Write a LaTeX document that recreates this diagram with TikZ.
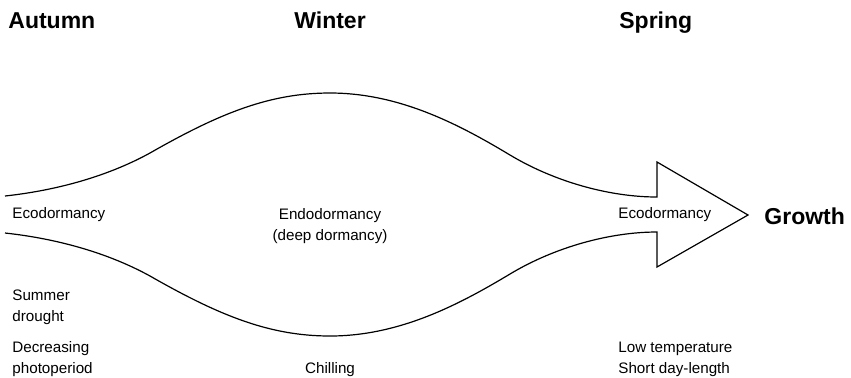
\documentclass[tikz,border=0pt]{standalone}
\usepackage{fontspec}
\setmainfont{Liberation Sans}
\begin{document}
\begin{tikzpicture}[x=0.5pt,y=-0.5pt]
        \tikzstyle{season}=[font=\fontsize{11.5}{14}\selectfont\bfseries,inner sep=0pt]
        \tikzstyle{phase}=[font=\fontsize{7.6}{10.5}\selectfont,inner sep=0pt,align=left]
        \tikzstyle{outline}=[draw=black,line width=0.6pt,line join=miter]
        \useasboundingbox (0,0) rectangle (851,377);
        \begin{scope}
                \node [season,anchor=base west] (autumn) at (8,28) {Autumn};
                \node [season,anchor=base] (winter) at (330,28) {Winter};
                \node [season,anchor=base west] (spring) at (619,28) {Spring};
                \node [season,anchor=base west] (growth) at (764,224) {Growth};
                \node [phase,anchor=base west] (ecoA) at (12,218) {Ecodormancy};
                \node [phase,anchor=base,align=center] (endo) at (330,240) {Endodormancy\\(deep dormancy)};
                \node [phase,anchor=base west] (ecoS) at (618,218) {Ecodormancy};
                \node [phase,anchor=base west] (drought) at (12,321) {Summer\\drought};
                \node [phase,anchor=base west] (photo) at (12,373) {Decreasing\\photoperiod};
                \node [phase,anchor=base] (chill) at (330,373) {Chilling};
                \node [phase,anchor=base west] (cold) at (618,373) {Low temperature\\Short day-length};
        \end{scope}
        \coordinate (tip) at (748,215);
        \draw[outline] (5,196) .. controls (60,190) and (110,175) .. (150,153)
                .. controls (220,113) and (270,93) .. (330,93)
                .. controls (400,93) and (460,125) .. (510,155)
                .. controls (555,182) and (610,197) .. (657,197)
                -- (657,162) -- (tip) -- (657,267) -- (657,232)
                .. controls (610,232) and (555,247) .. (510,274)
                .. controls (460,304) and (400,336) .. (330,336)
                .. controls (270,336) and (220,316) .. (150,276)
                .. controls (110,254) and (60,239) .. (5,233);
\end{tikzpicture}
\end{document}
